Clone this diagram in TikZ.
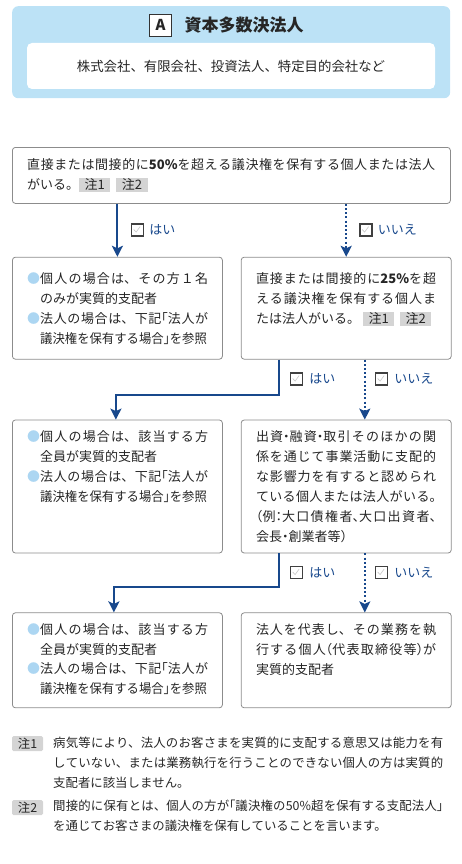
\documentclass[tikz,border=0pt]{standalone}
\usepackage{fontspec}
\setmainfont{Noto Sans CJK JP}
\usepackage{graphicx}
\usepackage{tikz}
\usetikzlibrary{positioning,arrows.meta}
\usepackage{xcolor}
\definecolor{flowblue}{RGB}{24,72,140}
\definecolor{headblue}{RGB}{188,226,246}
\definecolor{dotblue}{RGB}{172,214,242}
\definecolor{framegray}{RGB}{140,140,140}
\definecolor{taggray}{RGB}{212,212,212}
\definecolor{inkgray}{RGB}{38,38,38}
\XeTeXlinebreaklocale "ja"
\XeTeXlinebreakskip=0pt plus 3pt
\setlength\parindent{0pt}
\newcommand\tagn[1]{{\setlength\fboxsep{0pt}\colorbox{taggray}{\rule[-2.5pt]{0pt}{14pt}\hspace{5.5pt}#1\hspace{5.5pt}}}}
\newcommand\bitem[1]{\noindent\makebox[13pt][l]{\color{dotblue}●}\parbox[t]{168pt}{#1}\par\prevdepth=1.5pt\relax}
\newcommand\hop[1]{\makebox[.5em][r]{#1}}
\newcommand\hcl[1]{\makebox[.5em][l]{#1}}
\newcommand\hmid[1]{\makebox[.5em][c]{#1}}

\begin{document}
\begin{tikzpicture}[
  x=1pt, y=-1pt,
  >=Stealth,
  headbox/.style={fill=headblue, rounded corners=6pt, inner sep=0pt, anchor=north west, minimum width=438pt, minimum height=92pt},
  typebox/.style={fill=white, rounded corners=5pt, inner sep=0pt, minimum width=408pt, minimum height=46pt, text=inkgray, font=\fontsize{13.4}{13.4}\selectfont},
  markbox/.style={draw=black!80, line width=0.9pt, fill=white, minimum size=22pt, inner sep=0pt, font=\bfseries\fontsize{15}{15}\selectfont, text=inkgray},
  box/.style={draw=framegray, line width=0.8pt, rounded corners=3pt, fill=white, inner sep=0pt, anchor=north west},
  body/.style={text=inkgray, inner sep=0pt, anchor=north west, align=justify, font=\fontsize{13}{20}\selectfont},
  chk/.style={draw=black!75, line width=1.1pt, fill=white, minimum size=12pt, inner sep=0pt,
    path picture={\draw[black!22, line width=0.6pt] ([shift={(2.2pt,-5.5pt)}]path picture bounding box.north west) -- ++(2.4pt,-2.6pt) -- ++(4pt,5.5pt);}},
  ans/.style={text=flowblue, inner sep=0pt, anchor=west, font=\fontsize{13}{13}\selectfont},
  yesline/.style={draw=flowblue, line width=2pt, -{Stealth[length=11pt,width=11pt,inset=2.5pt]}},
  noline/.style={yesline, dash pattern=on 2pt off 2.2pt},
  notetag/.style={fill=taggray, rounded corners=1.5pt, minimum width=31pt, minimum height=15pt, inner sep=0pt, text=inkgray, font=\fontsize{12.4}{12.4}\selectfont},
  notetxt/.style={text=inkgray, inner sep=0pt, anchor=north west, align=justify, text width=390pt, font=\fontsize{12.4}{20}\selectfont},
]
\useasboundingbox (0,0) rectangle (462,864);

% === Header: company type ===
\node[headbox] (head) at (12,6) {};
\node[font=\bfseries\fontsize{17}{17}\selectfont, text=inkgray] (title) at (244,25) {資本多数決法人};
\node[markbox, left=9pt of title] (mark) {A};
\node[typebox] (types) at (231,66) {株式会社、有限会社、投資法人、特定目的会社など};

% === Row 1: first question ===
\node[box, minimum width=438pt, minimum height=56pt] (q1) at (12,147) {};
\node[body, text width=408pt] (q1t) at ([shift={(15pt,-11.5pt)}]q1.north west)
  {直接または間接的に\textbf{50\%}を超える議決権を保有する個人または法人\linebreak
   がいる。\tagn{注1}\hspace{6pt}\tagn{注2}};

% === Row 2 ===
\node[box, below=53pt of q1.south west, anchor=north west, minimum width=210pt, minimum height=102pt] (a2) {};
\node[box, right=18pt of a2, anchor=west, minimum width=210pt, minimum height=102pt] (q2) {};
\node[body, text width=181pt] (a2t) at ([shift={(15pt,-15.5pt)}]a2.north west)
  {\bitem{個人の場合は、その方１名\linebreak のみが実質的支配者}
   \bitem{法人の場合は、下記\hop{「}法人が\linebreak \scalebox{0.95}[1]{議決権を保有する場合\hcl{」}を参照}}};
\node[body, text width=180pt] (q2t) at ([shift={(15pt,-15.5pt)}]q2.north west)
  {直接または間接的に\textbf{25\%}を超\linebreak える議決権を保有する個人ま\linebreak
   たは法人がいる。\hspace{3pt}\tagn{注1}\hspace{6pt}\tagn{注2}};

% === Row 3 ===
\node[box, below=60pt of a2.south west, anchor=north west, minimum width=210pt, minimum height=133pt] (a3) {};
\node[box, right=18pt of a3, anchor=west, minimum width=210pt, minimum height=133pt] (q3) {};
\node[body, text width=181pt] (a3t) at ([shift={(15pt,-11pt)}]a3.north west)
  {\bitem{個人の場合は、該当する方\linebreak 全員が実質的支配者}
   \bitem{法人の場合は、下記\hop{「}法人が\linebreak \scalebox{0.95}[1]{議決権を保有する場合\hcl{」}を参照}}};
\node[body, text width=180pt] (q3t) at ([shift={(15pt,-11pt)}]q3.north west)
  {出資\hmid{・}融資\hmid{・}取引そのほかの関\linebreak 係を通じて事業活動に支配的\linebreak
   な影響力を有すると認められ\linebreak ている個人または法人がいる\hcl{。}\linebreak
   \hop{（}例\hmid{：}大口債権者\hcl{、}大口出資者\hcl{、}\linebreak 会長\hmid{・}創業者等\hcl{）}};

% === Row 4 ===
\node[box, below=59pt of a3.south west, anchor=north west, minimum width=210pt, minimum height=95pt] (a4) {};
\node[box, right=18pt of a4, anchor=west, minimum width=210pt, minimum height=95pt] (r4) {};
\node[body, text width=181pt] (a4t) at ([shift={(15pt,-10.5pt)}]a4.north west)
  {\bitem{個人の場合は、該当する方\linebreak 全員が実質的支配者}
   \bitem{法人の場合は、下記\hop{「}法人が\linebreak \scalebox{0.95}[1]{議決権を保有する場合\hcl{」}を参照}}};
\node[body, text width=180pt] (r4t) at ([shift={(15pt,-10.5pt)}]r4.north west)
  {法人を代表し、その業務を執\linebreak 行する個人\hop{（}代表取締役等\hcl{）}が\linebreak 実質的支配者};

% === Flow arrows ===
\draw[yesline] (a2 |- q1.south) -- (a2.north);
\draw[noline] (q2 |- q1.south) -- (q2.north);
\draw[yesline] ([xshift=38pt]q2.south west) -- ++(0pt,-35pt) -| ([xshift=-1.5pt]a3.north);
\draw[noline] ([xshift=124pt]q2.south west) -- ([xshift=124pt]q3.north west);
\draw[yesline] ([xshift=38pt]q3.south west) -- ++(0pt,-34pt) -| ([xshift=-3.5pt]a4.north);
\draw[noline] ([xshift=124pt]q3.south west) -- ([xshift=124pt]r4.north west);

% === Answer labels ===
\node[chk] (c1) at (137.5,230) {};
\node[ans, right=5pt of c1] (l1) {はい};
\node[chk] (c2) at (366,230) {};
\node[ans, right=5pt of c2] (l2) {いいえ};
\node[chk] (c3) at (296.5,379) {};
\node[ans, right=6pt of c3] (l3) {はい};
\node[chk] (c4) at (381.5,379) {};
\node[ans, right=6pt of c4] (l4) {いいえ};
\node[chk] (c5) at (296.5,572.5) {};
\node[ans, right=6pt of c5] (l5) {はい};
\node[chk] (c6) at (381.5,572.5) {};
\node[ans, right=6pt of c6] (l6) {いいえ};

% === Notes ===
\node[notetag] (n1) at (27.5,743.5) {注1};
\node[notetxt] (n1t) at (53,737)
  {病気等により、法人のお客さまを実質的に支配する意思又は能力を有\linebreak
   していない、または業務執行を行うことのできない個人の方は実質的\linebreak
   支配者に該当しません。};
\node[notetag] (n2) at (27.5,807.5) {注2};
\node[notetxt] (n2t) at (53,800)
  {間接的に保有とは、個人の方が\hop{「}議決権の50\%超を保有する支配法人\hcl{」}\linebreak
   を通じてお客さまの議決権を保有していることを言います。};

\end{tikzpicture}
\end{document}
